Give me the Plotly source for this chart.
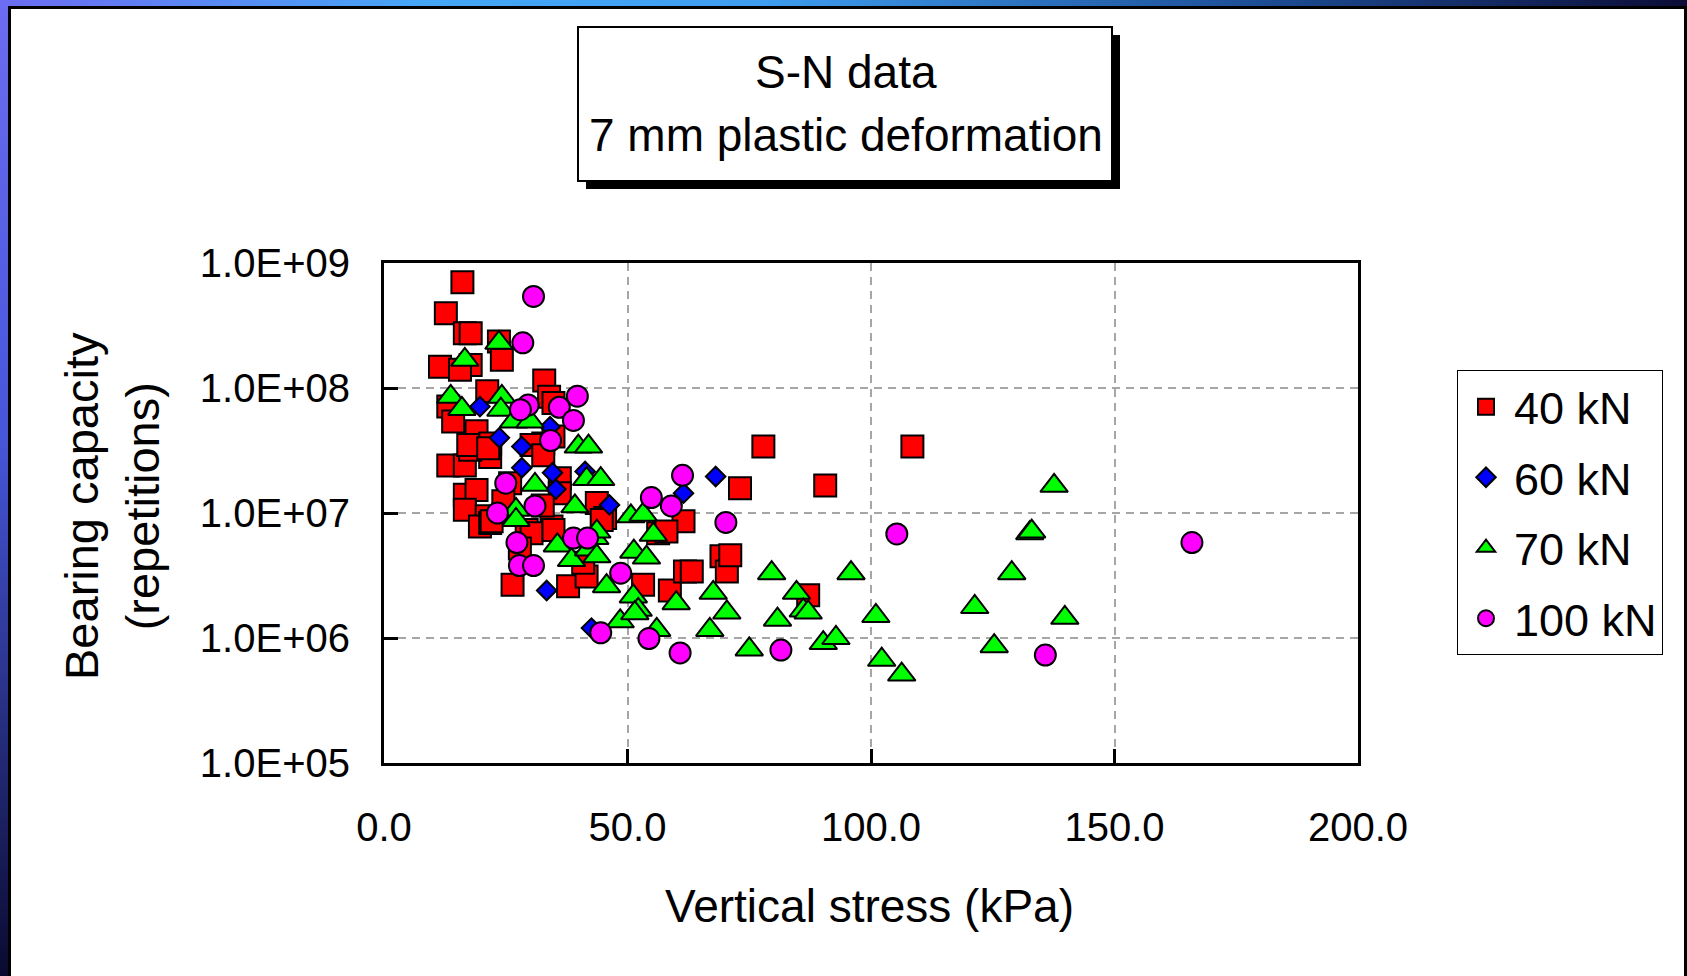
import base64
import plotly.graph_objects as go

# ---------------- data ----------------
kn40_x = [16.1, 12.7, 16.6, 17.8, 23.6, 24.2, 17.8, 11.5, 15.6, 32.9, 33.9, 21.2, 13.2, 14.2,
          19.0, 13.2, 16.6, 21.8, 21.8, 17.7, 32.7, 34.8, 34.8, 17.3, 21.4, 30.3, 32.7, 16.6,
          19.0, 16.6, 21.1, 19.7, 36.1, 36.1, 43.7, 45.4, 34.4, 29.3, 25.9, 21.8, 30.3, 27.9,
          37.8, 26.4, 41.6, 44.7, 40.9, 22.1, 34.8, 53.2, 58.7, 61.5, 61.8, 63.2, 69.3, 70.4,
          73.1, 56.3, 58.0, 71.1, 77.9, 90.6, 108.5, 87.1, 32.6, 24.5]
kn40_y = [7.0e8, 3.96e8, 2.74e8, 2.74e8, 2.35e8, 1.68e8, 1.53e8, 1.48e8, 1.4e8, 1.15e8, 8.5e7, 9.4e7,
          7.1e7, 5.4e7, 4.5e7, 2.4e7, 2.4e7, 2.8e7, 3.6e7, 3.2e7, 3.6e7, 4.1e7, 7.6e7, 3.5e7,
          3.3e7, 3.5e7, 2.9e7, 1.4e7, 1.53e7, 1.06e7, 9.4e6, 7.8e6, 1.9e7, 1.44e7, 1.2e7, 9.1e6,
          7.8e6, 7.3e6, 1.73e7, 8.3e6, 6.9e6, 5.2e6, 2.6e6, 2.67e6, 3.1e6, 8.8e6, 4.0e6, 8.6e6,
          7.3e6, 2.67e6, 2.4e6, 8.6e6, 3.4e6, 3.4e6, 4.5e6, 3.4e6, 1.58e7, 6.9e6, 7.1e6, 4.6e6,
          3.4e7, 1.66e7, 3.4e7, 2.2e6, 1.15e7, 1.24e7]

kn60_x = [19.7, 23.7, 28.3, 34.1, 28.3, 34.6, 35.3, 41.3, 46.3, 61.5, 68.1, 33.4, 42.6]
kn60_y = [7.1e7, 4.0e7, 3.4e7, 4.9e7, 2.3e7, 2.1e7, 1.55e7, 2.15e7, 1.16e7, 1.44e7, 1.96e7, 2.4e6, 1.2e6]

kn70_x = [23.6, 16.6, 13.7, 16.0, 24.2, 24.0, 26.6, 30.0, 39.9, 42.0, 41.6, 44.5, 31.0, 39.2,
          27.1, 27.1, 50.7, 53.2, 35.6, 38.5, 43.3, 42.0, 43.7, 51.3, 53.9, 55.3, 43.7, 45.7,
          51.2, 52.2, 48.5, 51.5, 56.0, 60.0, 67.6, 66.9, 70.4, 75.0, 79.6, 80.8, 84.7, 86.1,
          87.1, 90.2, 92.8, 95.9, 101.0, 102.2, 106.3, 121.3, 125.3, 128.9, 132.6, 133.0,
          137.6, 139.8]
kn70_y = [2.3e8, 1.68e8, 8.5e7, 6.8e7, 8.5e7, 6.7e7, 5.4e7, 5.4e7, 3.4e7, 3.4e7, 1.87e7, 1.87e7,
          1.68e7, 1.13e7, 1.06e7, 8.8e6, 9.4e6, 9.7e6, 5.5e6, 4.2e6, 6.3e6, 5.1e6, 4.5e6, 4.9e6,
          4.4e6, 6.7e6, 7.1e6, 2.6e6, 2.15e6, 1.68e6, 1.36e6, 1.58e6, 1.16e6, 1.9e6, 2.3e6,
          1.16e6, 1.6e6, 8.1e5, 3.3e6, 1.4e6, 2.3e6, 1.66e6, 1.6e6, 9.1e5, 1.0e6, 3.3e6, 1.5e6,
          6.7e5, 5.1e5, 1.77e6, 8.6e5, 3.3e6, 6.9e6, 7.1e6, 1.65e7, 1.45e6]

kn100_x = [30.7, 28.5, 29.6, 28.0, 36.0, 39.7, 38.9, 34.2, 25.0, 31.0, 61.3, 54.9, 59.0, 23.3,
           27.3, 27.8, 30.7, 38.9, 41.8, 48.6, 44.5, 54.4, 60.8, 70.2, 81.5, 105.3, 135.8, 165.9]
kn100_y = [5.4e8, 2.3e8, 7.3e7, 6.7e7, 7.0e7, 8.6e7, 5.5e7, 3.8e7, 1.73e7, 1.14e7, 2.0e7, 1.33e7,
           1.14e7, 1.0e7, 5.8e6, 3.8e6, 3.8e6, 6.3e6, 6.3e6, 3.3e6, 1.1e6, 9.9e5, 7.6e5, 8.4e6,
           8.0e5, 6.8e6, 7.3e5, 5.8e6]

x_tickvals = [0, 50, 100, 150, 200]
x_ticktext = ["0.0", "50.0", "100.0", "150.0", "200.0"]
y_tickvals = [1e5, 1e6, 1e7, 1e8, 1e9]
y_ticktext = ["1.0E+05", "1.0E+06", "1.0E+07", "1.0E+08", "1.0E+09"]

# ---------------- layout geometry (pixels) ----------------
W, H = 1687, 976
PL, PR, PT, PB = 384, 1358, 263, 763
FONT = "Liberation Sans, Arial, sans-serif"


def px(x):
    return (x - PL) / (PR - PL)


def py(y):
    return (PB - y) / (PB - PT)


fig = go.Figure()
series = [
    ("40 kN", kn40_x, kn40_y, "square", "#ff0000", 22),
    ("60 kN", kn60_x, kn60_y, "diamond", "#0000ff", 15),
    ("70 kN", kn70_x, kn70_y, "triangle-up", "#00ff00", 24),
    ("100 kN", kn100_x, kn100_y, "circle", "#ff00ff", 21),
]
for name, xs, ys, sym, col, sz in series:
    fig.add_trace(go.Scatter(
        x=xs, y=ys, mode="markers", name=name, legendgroup=name,
        marker=dict(symbol=sym, color=col, size=sz, line=dict(color="black", width=2)),
    ))

# background: gradient frame + white slide
svg = f'''<svg xmlns="http://www.w3.org/2000/svg" width="{W}" height="{H}">
<defs>
<linearGradient id="gt" x1="0" y1="0" x2="1" y2="0">
<stop offset="0" stop-color="#6c6cf2"/><stop offset="0.25" stop-color="#46a6f6"/>
<stop offset="0.45" stop-color="#3f9ef0"/><stop offset="0.75" stop-color="#1c4c94"/>
<stop offset="1" stop-color="#0c0c36"/></linearGradient>
<linearGradient id="gl" x1="0" y1="0" x2="0" y2="1">
<stop offset="0" stop-color="#6c6cf2"/><stop offset="0.45" stop-color="#4656d8"/>
<stop offset="1" stop-color="#0a0a30"/></linearGradient>
</defs>
<rect x="0" y="0" width="{W}" height="{H}" fill="#0a0a30"/>
<rect x="0" y="0" width="{W}" height="{H}" fill="url(#gl)"/>
<rect x="0" y="0" width="{W}" height="7" fill="url(#gt)"/>
<rect x="8" y="6" width="{W-8}" height="{H-6}" fill="#000"/>
<rect x="11" y="9" width="{W-11-3}" height="{H-9}" fill="#fff"/>
</svg>'''
src = "data:image/svg+xml;base64," + base64.b64encode(svg.encode()).decode()
fig.add_layout_image(dict(source=src, xref="paper", yref="paper",
                          x=px(0), y=py(0), sizex=W / (PR - PL), sizey=H / (PB - PT),
                          xanchor="left", yanchor="top", sizing="stretch", layer="below"))

# title box with shadow
bx0, by0, bx1, by1 = 578, 27, 1112, 181
fig.add_shape(type="rect", xref="paper", yref="paper",
              x0=px(bx0 + 8), x1=px(bx1 + 8), y0=py(by0 + 8), y1=py(by1 + 8),
              fillcolor="black", line=dict(width=0), layer="below")
fig.add_shape(type="rect", xref="paper", yref="paper",
              x0=px(bx0), x1=px(bx1), y0=py(by0), y1=py(by1),
              fillcolor="white", line=dict(color="black", width=2), layer="below")

ann = [
    ("S-N data", 846, 72, 46, 0),
    ("7 mm plastic deformation", 846, 135, 46, 0),
    ("Vertical stress (kPa)", 869, 906, 46, 0),
    ("Bearing capacity<br>(repetitions)", 112, 506, 47, -90),
]
for text, ax_, ay_, fs, ang in ann:
    fig.add_annotation(text=text, xref="paper", yref="paper", x=px(ax_), y=py(ay_),
                       xanchor="center", yanchor="middle", showarrow=False,
                       textangle=ang, font=dict(size=fs, color="black", family=FONT))

fig.update_layout(
    width=W, height=H,
    margin=dict(l=PL, r=W - PR, t=PT, b=H - PB, pad=0),
    paper_bgcolor="white", plot_bgcolor="white",
    font=dict(family=FONT, color="black"),
    showlegend=True,
    legend=dict(x=px(1457), y=py(370), xanchor="left", yanchor="top",
                bordercolor="black", borderwidth=1, bgcolor="white",
                font=dict(size=45, family=FONT, color="black"),
                itemsizing="trace", itemwidth=46, tracegroupgap=9,
                traceorder="grouped"),
)
fig.update_xaxes(range=[0, 200], tickvals=x_tickvals, ticktext=x_ticktext,
                 showline=True, linecolor="black", linewidth=3, mirror=True,
                 ticks="inside", ticklen=14, tickwidth=3, tickcolor="black",
                 showgrid=True, gridcolor="#a6a6a6", gridwidth=1.5, griddash="8px,6px",
                 zeroline=False, tickfont=dict(size=40, family=FONT, color="black"),
                 ticklabelstandoff=27)
fig.update_yaxes(type="log", range=[5, 9], tickvals=y_tickvals, ticktext=y_ticktext,
                 showline=True, linecolor="black", linewidth=3, mirror=True,
                 ticks="inside", ticklen=14, tickwidth=3, tickcolor="black",
                 showgrid=True, gridcolor="#a6a6a6", gridwidth=1.5, griddash="8px,6px",
                 zeroline=False, tickfont=dict(size=40, family=FONT, color="black"),
                 ticklabelstandoff=23)

fig.write_html("out.html")
